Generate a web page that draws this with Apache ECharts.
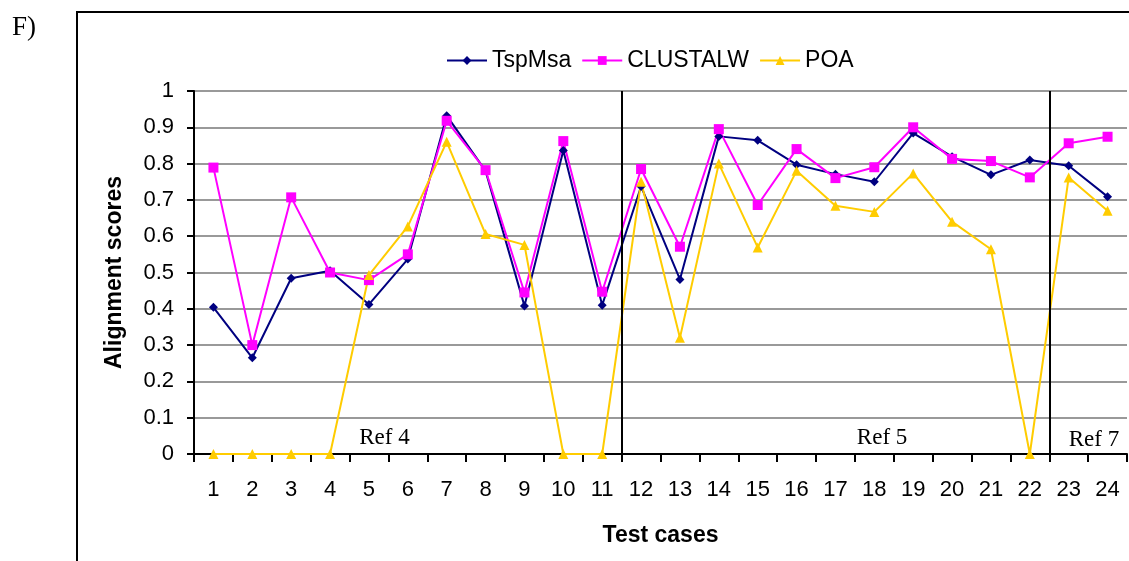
<!DOCTYPE html>
<html>
<head>
<meta charset="utf-8">
<script src="https://cdn.jsdelivr.net/npm/echarts@6/dist/echarts.min.js"></script>
<style>
  html, body { margin: 0; padding: 0; background: #fff; }
  #chart { width: 1129px; height: 561px; }
</style>
</head>
<body>
<div id="chart"></div>
<script>
// test cases 1..24
const testCases = ['1','2','3','4','5','6','7','8','9','10','11','12','13','14','15','16','17','18','19','20','21','22','23','24']

const tspMsa = [0.404, 0.265, 0.484, 0.505, 0.412, 0.537, 0.932, 0.78, 0.408, 0.836, 0.41, 0.737,
  0.481, 0.875, 0.864, 0.797, 0.771, 0.75, 0.884, 0.819, 0.769, 0.81, 0.794, 0.709]
const clustalw = [0.789, 0.3, 0.707, 0.5, 0.479, 0.55, 0.918, 0.782, 0.445, 0.862, 0.447, 0.785,
  0.571, 0.895, 0.686, 0.84, 0.76, 0.79, 0.9, 0.813, 0.807, 0.762, 0.856, 0.874]
const poa = [0, 0, 0, 0, 0.493, 0.627, 0.86, 0.606, 0.576, 0, 0, 0.75,
  0.32, 0.8, 0.569, 0.78, 0.684, 0.667, 0.773, 0.64, 0.564, 0, 0.762, 0.67]

const yTicks = ['0', '0.1', '0.2', '0.3', '0.4', '0.5', '0.6', '0.7', '0.8', '0.9', '1']

// group separators (after case 11 and case 22) and their labels
const refBreaks = [11, 22]
const refLabels = [
  { name: 'Ref 4', x: 4.9, y: 0.045 },
  { name: 'Ref 5', x: 17.7, y: 0.045 },
  { name: 'Ref 7', x: 23.15, y: 0.04 }
]

const chart = echarts.init(document.getElementById('chart'))

const lineSeries = (name, data, color, symbol, size) => ({
  name,
  type: 'line',
  data,
  symbol,
  symbolSize: size,
  showSymbol: true,
  lineStyle: { color, width: 2 },
  itemStyle: { color },
  animation: false
})

const option = {
  backgroundColor: '#fff',
  graphic: [
    {
      type: 'rect',
      shape: { x: 77, y: 12, width: 1100, height: 600 },
      style: { fill: 'none', stroke: '#000', lineWidth: 2 },
      z: -1
    },
    {
      type: 'text',
      left: 12,
      top: 14,
      style: { text: 'F)', font: '27px "Liberation Serif"', fill: '#000' }
    }
  ],
  legend: {
    top: 44,
    left: 441,
    itemWidth: 40,
    itemHeight: 11,
    itemGap: 10,
    textStyle: { fontFamily: 'Liberation Sans', fontSize: 23, color: '#000' },
    data: ['TspMsa', 'CLUSTALW', 'POA']
  },
  grid: { left: 194, right: 2, top: 91, bottom: 107 },
  xAxis: [
    {
      type: 'category',
      data: testCases,
      boundaryGap: true,
      name: 'Test cases',
      nameLocation: 'middle',
      nameGap: 70,
      nameTextStyle: { fontFamily: 'Liberation Sans', fontSize: 23, fontWeight: 'bold', color: '#000' },
      axisLine: { lineStyle: { color: '#000', width: 2 } },
      axisTick: { show: true, length: 8, lineStyle: { color: '#000', width: 2 } },
      axisLabel: { fontFamily: 'Liberation Sans', fontSize: 22, color: '#000', margin: 25 },
      splitLine: { show: false }
    },
    {
      type: 'value',
      min: 0,
      max: 24,
      show: false
    }
  ],
  yAxis: {
    type: 'value',
    min: 0,
    max: 1,
    interval: 0.1,
    name: 'Alignment scores',
    nameLocation: 'middle',
    nameGap: 68,
    nameRotate: 90,
    nameTextStyle: { fontFamily: 'Liberation Sans', fontSize: 23, fontWeight: 'bold', color: '#000' },
    axisLine: { show: true, lineStyle: { color: '#000', width: 2 } },
    axisTick: { show: true, length: 7, lineStyle: { color: '#000', width: 2 } },
    axisLabel: {
      fontFamily: 'Liberation Sans', fontSize: 22, color: '#000', margin: 20,
      formatter: (v) => yTicks[Math.round(v * 10)]
    },
    splitLine: { show: true, lineStyle: { color: '#999', width: 2 } }
  },
  series: [
    lineSeries('TspMsa', tspMsa, '#000080', 'diamond', 9),
    lineSeries('CLUSTALW', clustalw, '#ff00ff', 'rect', 10),
    lineSeries('POA', poa, '#ffcc00', 'triangle', 10),
    {
      type: 'line',
      xAxisIndex: 1,
      yAxisIndex: 0,
      data: [],
      silent: true,
      animation: false,
      markLine: {
        symbol: 'none',
        silent: true,
        label: { show: false },
        lineStyle: { color: '#000', width: 2, type: 'solid' },
        data: refBreaks.map(v => [{ coord: [v, 0] }, { coord: [v, 1] }])
      },
      markPoint: {
        symbol: 'circle',
        symbolSize: 0,
        label: {
          show: true,
          formatter: '{b}',
          fontFamily: 'Liberation Serif',
          fontSize: 23,
          color: '#000'
        },
        data: refLabels.map(r => ({ name: r.name, coord: [r.x, r.y] }))
      }
    }
  ]
}

chart.setOption(option)
</script>
</body>
</html>
